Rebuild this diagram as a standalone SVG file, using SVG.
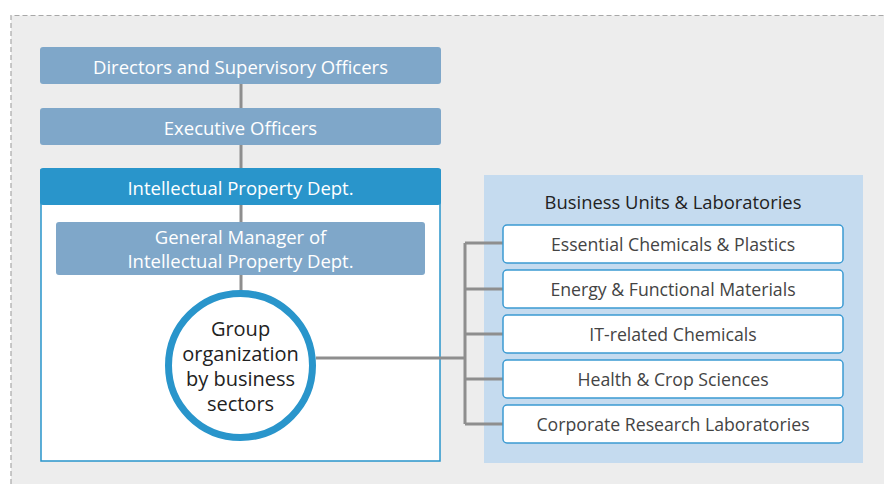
<svg xmlns="http://www.w3.org/2000/svg" width="884" height="484" viewBox="0 0 884 484">
<style>
.t{font-family:"Open Sans","Liberation Sans",sans-serif;text-anchor:middle}
.w{fill:#fff;font-size:18.5px}
.d{fill:#444;font-size:17.7px}
.c{fill:#222;font-size:20px}
.hd{fill:#222;font-size:18.4px}
.top{fill:#7fa7c9}
.unit{fill:#fff;stroke:#3b9ad2;stroke-width:1.5}
.ln{stroke:#8e8e8e;stroke-width:3;fill:none}
</style>
<rect x="0" y="0" width="884" height="484" fill="#fff"/>
<rect x="11" y="15.5" width="880" height="480" fill="#ededed"/>
<path d="M11 484V15.5H884" fill="none" stroke="#a8a8a8" stroke-width="1.2" stroke-dasharray="5 3"/>
<rect x="484" y="175" width="379" height="288" fill="#c5dbef"/>
<g id="directors">
<rect class="top" x="40" y="47" width="401" height="37" rx="3"/>
<text class="t w" x="240.5" y="73.5">Directors and Supervisory Officers</text>
</g>
<g id="executive">
<rect class="top" x="40" y="108" width="401" height="37" rx="3"/>
<text class="t w" x="240.5" y="134.5">Executive Officers</text>
</g>
<g id="ipdept">
<rect x="41" y="170" width="399" height="291" fill="#fff" stroke="#2995cb" stroke-width="1.5"/>
<rect x="40" y="168" width="401" height="37" rx="3" fill="#2995cb"/>
<text class="t w" x="240.5" y="194.5">Intellectual Property Dept.</text>
</g>
<g id="gm">
<rect class="top" x="56" y="222" width="369" height="53" rx="3"/>
<text class="t w" x="240.5" y="243.5">General Manager of</text>
<text class="t w" x="240.5" y="268">Intellectual Property Dept.</text>
</g>
<g id="connectors">
<path class="ln" d="M241 84V108M241 145V168M241 205V222M241 275V292"/>
<path class="ln" d="M316 358H465M465 243V424M465 243H503M465 289H503M465 334H503M465 379H503M465 424H503"/>
</g>
<g id="group">
<circle cx="240.5" cy="365.5" r="72" fill="#fff" stroke="#2995cb" stroke-width="7"/>
<text class="t c" x="240.5" y="336">Group</text>
<text class="t c" x="240.5" y="361">organization</text>
<text class="t c" x="240.5" y="386">by business</text>
<text class="t c" x="240.5" y="411">sectors</text>
</g>
<g id="business-units">
<text class="t hd" x="673" y="208.5">Business Units &amp; Laboratories</text>
</g>
<g id="unit1"><rect class="unit" x="503" y="225" width="340" height="38" rx="4"/><text class="t d" x="673" y="250.5">Essential Chemicals &amp; Plastics</text></g>
<g id="unit2"><rect class="unit" x="503" y="270" width="340" height="38" rx="4"/><text class="t d" x="673" y="295.5">Energy &amp; Functional Materials</text></g>
<g id="unit3"><rect class="unit" x="503" y="315" width="340" height="38" rx="4"/><text class="t d" x="673" y="340.5">IT-related Chemicals</text></g>
<g id="unit4"><rect class="unit" x="503" y="360" width="340" height="38" rx="4"/><text class="t d" x="673" y="385.5">Health &amp; Crop Sciences</text></g>
<g id="unit5"><rect class="unit" x="503" y="405" width="340" height="38" rx="4"/><text class="t d" x="673" y="430.5">Corporate Research Laboratories</text></g>
</svg>
